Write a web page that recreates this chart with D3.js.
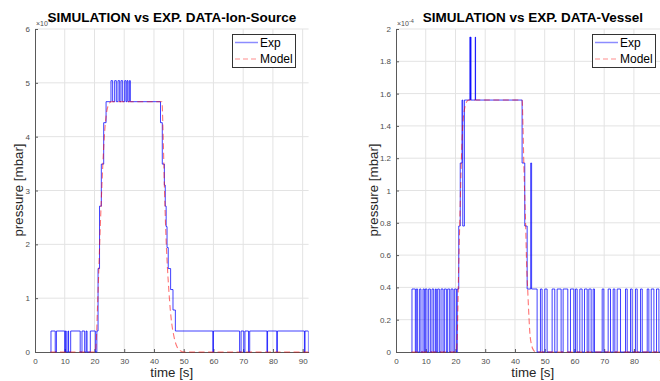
<!DOCTYPE html>
<html><head><meta charset="utf-8">
<script src="https://cdn.jsdelivr.net/npm/d3@7"></script>
<style>
html,body{margin:0;padding:0;background:#fff;}
svg{display:block;font-family:"Liberation Sans",Arial,Helvetica,sans-serif;}
</style></head>
<body><svg id="c" width="660" height="381"></svg>
<script>
// ---------- DATA ----------
const timeTicks = [0,10,20,30,40,50,60,70,80,90];
const ionTicks = [0,1,2,3,4,5,6];
const vesselTicks = [0,0.2,0.4,0.6,0.8,1,1.2,1.4,1.6,1.8,2];

// Ion-Source, experiment (step data, units of 1e-4 mbar)
const ionExpT = [5.3,5.37,6.8,7.2,10.0,10.2,10.5,11.1,11.3,12.0,15.2,15.8,16.7,17.2,17.5,18.6,20.3,20.8,
  21.2,21.7,22.3,23.1,23.9,25.55,26.11,26.78,27.35,27.91,28.47,28.92,29.48,30.15,30.6,30.94,31.27,31.72,32.06,
  42.2,42.8,43.5,43.8,44.1,44.4,44.8,45.6,46.4,47.2,59.8,60.0,68.8,69.3,70.2,70.6,71.8,72.2,78.0,78.2,81.3,81.5,90.6,90.8,91.95,92];
const ionExpV = [0,0.39,0,0.39,0,0.39,0,0.39,0,0.39,0,0.39,0,0.39,0,0.39,0,0.39,
  1.55,2.71,3.49,4.26,4.65,5.04,4.65,5.04,4.65,5.04,4.65,5.04,4.65,5.04,4.65,5.04,4.65,5.04,4.65,
  4.26,3.49,3.10,2.71,2.33,1.94,1.55,1.16,0.78,0.39,0,0.39,0,0.39,0,0.39,0,0.39,0,0.39,0,0.39,0,0.39,0,0];
// Ion-Source, model
const ionModelT = [5.2,20.3,20.6,21.0,21.5,22.0,22.5,23.0,23.5,24.0,24.5,25.0,25.6,42.7,43.0,43.5,44.0,44.5,45.0,45.5,46.0,46.5,47.0,47.5,48.0,49.0,50.0,92];
const ionModelV = [0,0,0.2,0.8,1.6,2.4,3.1,3.7,4.15,4.42,4.56,4.62,4.65,4.65,4.2,3.1,2.2,1.6,1.15,0.78,0.52,0.35,0.22,0.13,0.07,0.02,0,0];

// Vessel, experiment
const vesselExpT = [5.3,5.37,6.50,6.83,7.28,7.95,8.40,9.08,9.53,9.86,10.42,10.98,11.55,12.11,12.67,13.23,13.56,14.01,14.57,15.14,15.81,16.26,16.93,17.38,18.05,18.50,19.17,19.62,20.30,20.6,
  21.1,21.6,22.2,22.45,23.0,24.85,25.0,25.1,25.2,26.65,26.75,42.4,43.3,44.1,45.3,45.6,
  47.45,48.57,49.13,50.03,50.81,52.5,53.39,54.18,55.52,56.2,57.77,58.67,59.79,60.35,60.91,61.81,62.59,63.38,64.28,64.84,65.62,66.3,66.74,69.33,69.89,71.34,72.13,73.03,73.59,74.37,75.5,77.18,77.74,78.86,79.42,80.55,81.11,82.23,82.8,84.47,85.03,85.82,86.72,87.61,88.4,88.96,89.5,90.2,90.8,91.4,92];
const vesselExpV = [0,0.39,0,0.39,0,0.39,0,0.39,0,0.39,0,0.39,0,0.39,0,0.39,0,0.39,0,0.39,0,0.39,0,0.39,0,0.39,0,0.39,0,0.39,
  0.78,1.17,1.56,0.78,1.56,1.95,1.56,1.95,1.56,1.95,1.56,1.17,0.78,0.39,1.17,0.39,
  0,0.39,0,0.39,0,0.39,0,0.39,0,0.39,0,0.39,0,0.39,0,0.39,0,0.39,0,0.39,0,0.39,0,0.39,0,0.39,0,0.39,0,0.39,0,0.39,0,0.39,0,0.39,0,0.39,0,0.39,0,0.39,0,0.39,0,0.39,0,0.39,0,0.39,0.39];
// Vessel, model
const vesselModelT = [5.2,20.3,20.6,21.0,21.5,22.0,22.5,23.0,23.5,24.5,42.4,42.7,43.0,43.5,44.0,44.3,44.7,45.0,45.5,46.3,47.0,92];
const vesselModelV = [0,0,0.1,0.45,0.85,1.2,1.42,1.5,1.54,1.56,1.56,1.4,1.15,0.85,0.5,0.38,0.22,0.12,0.05,0.01,0,0];

const panels = [
  {title:"SIMULATION vs EXP. DATA-Ion-Source", x0:35, yMax:6, yTicks:ionTicks, labOff:12.5,
   exp:[ionExpT,ionExpV], model:[ionModelT,ionModelV], legX:232},
  {title:"SIMULATION vs EXP. DATA-Vessel", x0:396, yMax:2, yTicks:vesselTicks, labOff:18.5,
   exp:[vesselExpT,vesselExpV], model:[vesselModelT,vesselModelV], legX:592}
];

// ---------- DRAW ----------
const svg = d3.select("#c");
const plotTop = 29, plotBottom = 352, plotW = 273.6, xMax = 92;
const axisCol = "#5a5a5a", gridCol = "#e3e3e3", textCol = "#4d4d4d";

panels.forEach((p,i) => {
  const x = d3.scaleLinear().domain([0,xMax]).range([p.x0, p.x0+plotW]);
  const y = d3.scaleLinear().domain([0,p.yMax]).range([plotBottom, plotTop]);
  const g = svg.append("g");
  const clipId = "clip"+i;
  svg.append("clipPath").attr("id",clipId).append("rect")
    .attr("x",p.x0).attr("y",plotTop-1).attr("width",plotW).attr("height",plotBottom-plotTop+2);

  // grid
  g.append("g").selectAll("line").data(timeTicks.filter(d=>d>0)).join("line")
    .attr("x1",d=>x(d)).attr("x2",d=>x(d)).attr("y1",plotTop).attr("y2",plotBottom)
    .attr("stroke",gridCol).attr("stroke-width",1);
  g.append("g").selectAll("line").data(p.yTicks.filter(d=>d>0)).join("line")
    .attr("x1",p.x0).attr("x2",p.x0+plotW).attr("y1",d=>y(d)).attr("y2",d=>y(d))
    .attr("stroke",gridCol).attr("stroke-width",1);

  // axes
  const ax = g.append("g").attr("transform",`translate(0,${plotBottom})`)
    .call(d3.axisBottom(x).tickValues(timeTicks).tickSizeInner(-3).tickSizeOuter(0).tickPadding(6));
  const ay = g.append("g").attr("transform",`translate(${p.x0},0)`)
    .call(d3.axisLeft(y).tickValues(p.yTicks).tickFormat(d3.format("~g")).tickSizeInner(-3).tickSizeOuter(0).tickPadding(5));
  [ax,ay].forEach(a=>{
    a.select(".domain").attr("stroke",axisCol);
    a.selectAll(".tick line").attr("stroke",axisCol);
    a.selectAll(".tick text").attr("fill",textCol).style("font-size","8px")
      .style("font-family",'"Liberation Sans",Arial,sans-serif');
  });

  // lines
  const expData = p.exp[0].map((t,k)=>[t,p.exp[1][k]]);
  const modData = p.model[0].map((t,k)=>[t,p.model[1][k]]);
  const lg = g.append("g").attr("clip-path",`url(#${clipId})`);
  lg.append("path").datum(expData)
    .attr("d",d3.line().x(d=>x(d[0])).y(d=>y(d[1])).curve(d3.curveStepAfter))
    .attr("fill","none").attr("stroke","#0000ff").attr("stroke-width",1).attr("stroke-opacity",0.75);
  lg.append("path").datum(modData)
    .attr("d",d3.line().x(d=>x(d[0])).y(d=>y(d[1])).curve(d3.curveMonotoneX))
    .attr("fill","none").attr("stroke","#ff0000").attr("stroke-width",1.1).attr("stroke-opacity",0.55)
    .attr("stroke-dasharray","6,3.5");

  // exponent label
  const ex = g.append("text").attr("x",p.x0+1).attr("y",26).attr("fill",textCol).style("font-size","7px");
  ex.append("tspan").text("×10");
  ex.append("tspan").attr("dy",-3).style("font-size","5.5px").text("-4");

  // title
  g.append("text").attr("x",p.x0+plotW/2).attr("y",22).attr("text-anchor","middle")
    .style("font-size","13.5px").style("font-weight","bold").attr("fill","#000").text(p.title);

  // axis labels
  g.append("text").attr("x",p.x0+plotW/2).attr("y",377).attr("text-anchor","middle")
    .style("font-size","13.3px").attr("fill","#262626").text("time [s]");
  g.append("text").attr("transform",`translate(${p.x0-p.labOff},190) rotate(-90)`).attr("text-anchor","middle")
    .style("font-size","13.3px").attr("fill","#262626").text("pressure [mbar]");

  // legend
  const L = g.append("g").attr("transform",`translate(${p.legX},34)`);
  L.append("rect").attr("x",0.5).attr("y",0.5).attr("width",63).attr("height",33)
    .attr("fill","#fff").attr("stroke","#333").attr("stroke-width",1);
  L.append("line").attr("x1",3).attr("x2",26).attr("y1",8.5).attr("y2",8.5)
    .attr("stroke","#0000ff").attr("stroke-opacity",0.45).attr("stroke-width",1.5);
  L.append("line").attr("x1",3).attr("x2",26).attr("y1",25).attr("y2",25)
    .attr("stroke","#ff0000").attr("stroke-opacity",0.45).attr("stroke-width",1.2).attr("stroke-dasharray","5,3");
  L.append("text").attr("x",28).attr("y",8.5).attr("dy","0.35em").style("font-size","12px").attr("fill","#000").text("Exp");
  L.append("text").attr("x",28).attr("y",25).attr("dy","0.35em").style("font-size","12px").attr("fill","#000").text("Model");
});
</script></body></html>
